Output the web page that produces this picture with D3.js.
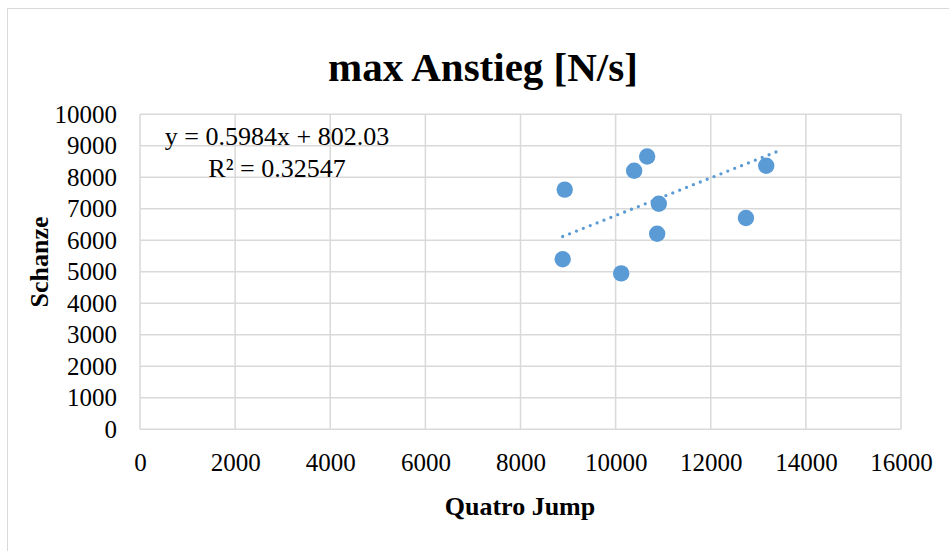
<!DOCTYPE html>
<html>
<head>
<meta charset="utf-8">
<script src="https://cdn.jsdelivr.net/npm/d3@7"></script>
<style>
  html, body { margin: 0; padding: 0; background: #fff; }
  svg { display: block; }
  text { font-family: "Liberation Serif", "Times New Roman", serif; fill: #000; }
</style>
</head>
<body>
<svg id="chart" width="949" height="551"></svg>
<script>
// Quatro Jump (x) vs. Schanze (y), max rise in N/s
const quatroJump = [8930, 8887, 10117, 10390, 10663, 10908, 10873, 12740, 13166];
const schanze    = [7610, 5400, 4950, 8206, 8658, 7161, 6206, 6710, 8368];

// linear trendline as stated by its label
const trendSlope = 0.5984;
const trendIntercept = 802.03;
const trendRange = [8887, 13420];

const xTicks = [0, 2000, 4000, 6000, 8000, 10000, 12000, 14000, 16000];
const yTicks = [0, 1000, 2000, 3000, 4000, 5000, 6000, 7000, 8000, 9000, 10000];

const chartTitle = "max Anstieg [N/s]";
const xTitle = "Quatro Jump";
const yTitle = "Schanze";
const equationLines = ["y = 0.5984x + 802.03", "R\u00b2 = 0.32547"];

const svg = d3.select("#chart");
const plot = { left: 140, right: 901, top: 114.3, bottom: 429.3 };

const x = d3.scaleLinear().domain([0, 16000]).range([plot.left, plot.right]);
const y = d3.scaleLinear().domain([0, 10000]).range([plot.bottom, plot.top]);

// chart frame
svg.append("rect")
  .attr("x", 7.5).attr("y", 8.5)
  .attr("width", 960).attr("height", 560)
  .attr("fill", "#fff").attr("stroke", "#d9d9d9").attr("stroke-width", 1);

// gridlines
const grid = svg.append("g");
grid.selectAll("line.v").data(xTicks).join("line")
  .attr("x1", d => x(d)).attr("x2", d => x(d))
  .attr("y1", plot.top).attr("y2", plot.bottom)
  .attr("stroke", "#d9d9d9").attr("stroke-width", 1.5);
grid.selectAll("line.h").data(yTicks).join("line")
  .attr("x1", plot.left).attr("x2", plot.right)
  .attr("y1", d => y(d)).attr("y2", d => y(d))
  .attr("stroke", "#d9d9d9").attr("stroke-width", 1.5);

// axes (labels only, no tick marks or domain line)
const xAxis = svg.append("g")
  .attr("transform", `translate(0,${plot.bottom + 21})`)
  .call(d3.axisBottom(x).tickValues(xTicks).tickFormat(d3.format("d")).tickSize(0));
xAxis.select(".domain").remove();
xAxis.selectAll("text").attr("font-size", 25).attr("font-family", "Liberation Serif").attr("dy", "0.71em");

const yAxis = svg.append("g")
  .attr("transform", `translate(${plot.left - 23},0)`)
  .call(d3.axisLeft(y).tickValues(yTicks).tickFormat(d3.format("d")).tickSize(0));
yAxis.select(".domain").remove();
yAxis.selectAll("text").attr("font-size", 25).attr("font-family", "Liberation Serif").attr("x", 0);

// titles
svg.append("text")
  .attr("x", 483).attr("y", 81)
  .attr("text-anchor", "middle")
  .attr("font-size", 41).attr("font-weight", "bold")
  .text(chartTitle);

svg.append("text")
  .attr("x", 520).attr("y", 515)
  .attr("text-anchor", "middle")
  .attr("font-size", 26).attr("font-weight", "bold")
  .text(xTitle);

svg.append("text")
  .attr("transform", "translate(48,262) rotate(-90)")
  .attr("text-anchor", "middle")
  .attr("font-size", 26).attr("font-weight", "bold")
  .text(yTitle);

// data points
svg.append("g").selectAll("circle")
  .data(quatroJump.map((d, i) => [d, schanze[i]]))
  .join("circle")
  .attr("cx", d => x(d[0])).attr("cy", d => y(d[1]))
  .attr("r", 8.2)
  .attr("fill", "#5b9bd5");

// dotted trendline
const trendLine = d3.line().x(d => x(d)).y(d => y(trendSlope * d + trendIntercept));
svg.append("path")
  .attr("d", trendLine(trendRange))
  .attr("fill", "none")
  .attr("stroke", "#5b9bd5")
  .attr("stroke-width", 3.3)
  .attr("stroke-linecap", "round")
  .attr("stroke-dasharray", "0 7.4");

// trendline equation
svg.append("g").selectAll("text")
  .data(equationLines)
  .join("text")
  .attr("x", 277).attr("y", (d, i) => 145 + i * 32)
  .attr("text-anchor", "middle")
  .attr("font-size", 26)
  .text(d => d);
</script>
</body>
</html>
